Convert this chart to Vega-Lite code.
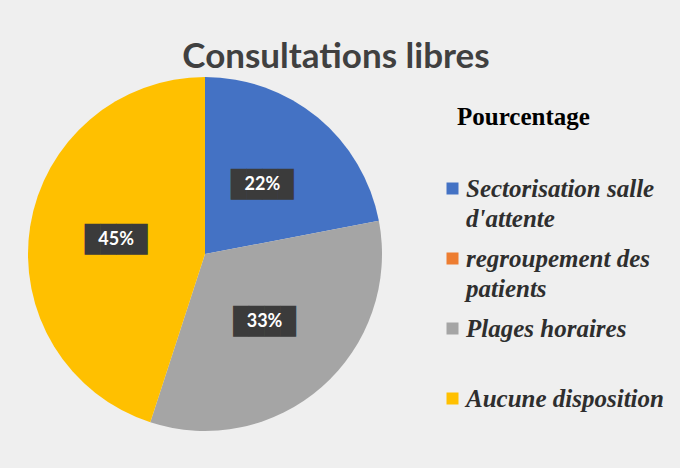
{
  "$schema": "https://vega.github.io/schema/vega-lite/v6.json",
  "width": 354,
  "height": 354,
  "padding": {"left": 28, "top": 40, "right": 30, "bottom": 45},
  "background": "#efefef",
  "title": {
    "text": "Consultations libres",
    "font": "Lato",
    "fontSize": 35,
    "fontWeight": "bold",
    "color": "#404040",
    "anchor": "middle",
    "frame": "bounds",
    "offset": 2,
    "dx": -10
  },
  "data": {
    "values": [
      {"categorie": "Sectorisation salle d'attente", "part": 0.22, "ordre": 1},
      {"categorie": "regroupement des patients", "part": 0.0, "ordre": 2},
      {"categorie": "Plages horaires", "part": 0.33, "ordre": 3},
      {"categorie": "Aucune disposition", "part": 0.45, "ordre": 4}
    ]
  },
  "encoding": {
    "theta": {"field": "part", "type": "quantitative", "stack": true},
    "order": {"field": "ordre", "type": "quantitative"}
  },
  "layer": [
    {
      "mark": {"type": "arc", "radius": 177},
      "encoding": {
        "color": {
          "field": "categorie",
          "type": "nominal",
          "sort": ["Sectorisation salle d'attente", "regroupement des patients", "Plages horaires", "Aucune disposition"],
          "scale": {
            "domain": ["Sectorisation salle d'attente", "regroupement des patients", "Plages horaires", "Aucune disposition"],
            "range": ["#4472C4", "#ED7D31", "#A5A5A5", "#FFC000"]
          },
          "legend": {
            "orient": "none",
            "legendX": 412,
            "legendY": 28,
            "title": "Pourcentage",
            "titleFont": "Liberation Serif",
            "titleFontSize": 25,
            "titleFontWeight": "bold",
            "titleColor": "#000000",
            "titleAnchor": "start",
            "titlePadding": 46,
            "labelFont": "Liberation Serif",
            "labelFontStyle": "italic",
            "labelFontWeight": "bold",
            "labelFontSize": 25,
            "labelColor": "#2e2e2e",
            "labelLimit": 300,
            "labelOffset": 1,
            "labelExpr": "datum.label == \"Sectorisation salle d'attente\" ? [\"Sectorisation salle\", \"d'attente\"] : datum.label == \"regroupement des patients\" ? [\"regroupement des\", \"patients\"] : [datum.label, \"\"]",
            "symbolType": "square",
            "symbolSize": 144,
            "symbolStrokeWidth": 0,
            "rowPadding": 14,
            "encoding": {
              "title": {"dx": {"value": 17}},
              "labels": {"lineHeight": {"value": 30}}
            }
          }
        }
      }
    },
    {
      "transform": [{"filter": "datum.part > 0"}],
      "mark": {"type": "text", "radius": 90, "text": "████", "font": "DejaVu Sans Mono", "fontSize": 26, "color": "#3b3b3b"}
    },
    {
      "transform": [{"filter": "datum.part > 0"}],
      "mark": {"type": "text", "radius": 90, "font": "Lato", "fontWeight": "bold", "fontSize": 18, "color": "#ffffff"},
      "encoding": {"text": {"field": "part", "type": "quantitative", "format": ".0%"}}
    }
  ]
}
